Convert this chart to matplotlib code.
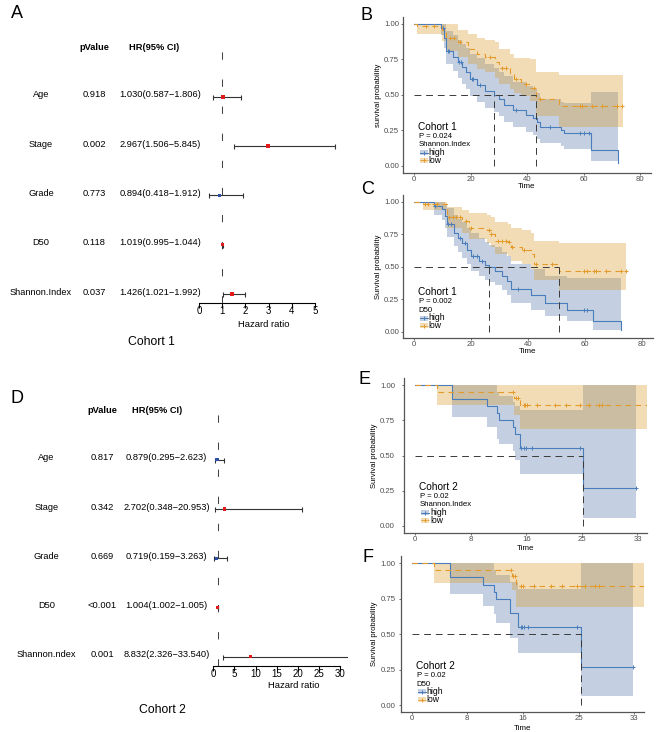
import numpy as np
import matplotlib
matplotlib.use('Agg')
import matplotlib.pyplot as plt
from matplotlib import transforms
from matplotlib.patches import Rectangle

plt.rcParams['font.family'] = ['Liberation Sans', 'DejaVu Sans']

W, H = 669, 732

# forest plot, cohort 1
vars_c1 = ['Age', 'Stage', 'Grade', 'D50', 'Shannon.Index']
pval_c1 = ['0.918', '0.002', '0.773', '0.118', '0.037']
hr_c1 = [1.030, 2.967, 0.894, 1.019, 1.426]
hr_lo_c1 = [0.587, 1.506, 0.418, 0.995, 1.021]
hr_hi_c1 = [1.806, 5.845, 1.912, 1.044, 1.992]

# forest plot, cohort 2
vars_c2 = ['Age', 'Stage', 'Grade', 'D50', 'Shannon.ndex']
pval_c2 = ['0.817', '0.342', '0.669', '<0.001', '0.001']
hr_c2 = [0.879, 2.702, 0.719, 1.004, 8.832]
hr_lo_c2 = [0.295, 0.348, 0.159, 1.002, 2.326]
hr_hi_c2 = [2.623, 20.953, 3.263, 1.005, 33.540]

# KM B: cohort 1, Shannon.Index
b_high_t = [0, 9.5, 10.5, 11.2, 13.8, 15.5, 17, 18.5, 19.8, 22.3, 25, 28.3, 30, 32, 35, 39.5, 42, 43.5, 44.7, 52, 53, 62.5, 72.2]
b_high_s = [1.00, 0.97, 0.90, 0.81, 0.77, 0.73, 0.70, 0.66, 0.61, 0.57, 0.53, 0.50, 0.47, 0.43, 0.39, 0.36, 0.34, 0.31, 0.27, 0.25, 0.23, 0.11, 0.02]
b_high_lo = [1.00, 0.92, 0.83, 0.72, 0.67, 0.62, 0.58, 0.54, 0.49, 0.45, 0.41, 0.38, 0.35, 0.31, 0.27, 0.24, 0.22, 0.19, 0.16, 0.14, 0.12, 0.03, 0.02]
b_high_hi = [1.00, 1.00, 1.00, 0.95, 0.92, 0.89, 0.86, 0.83, 0.79, 0.76, 0.72, 0.69, 0.66, 0.63, 0.59, 0.56, 0.54, 0.51, 0.47, 0.45, 0.44, 0.52, 0.52]
b_high_end = 72.2
b_high_cens = [10.2, 11.9, 12.5, 16, 16.6, 20.4, 21, 23.2, 36, 48, 58.8, 60, 62]
b_low_t = [0, 1, 10, 11.5, 15.5, 19, 22.4, 25, 28.6, 30, 34, 35.5, 38, 41, 43.3, 51.4]
b_low_s = [1.00, 0.985, 0.96, 0.90, 0.87, 0.82, 0.79, 0.77, 0.73, 0.69, 0.65, 0.61, 0.58, 0.55, 0.47, 0.42]
b_low_lo = [1.00, 0.93, 0.88, 0.81, 0.77, 0.72, 0.68, 0.66, 0.62, 0.58, 0.54, 0.51, 0.49, 0.46, 0.35, 0.27]
b_low_hi = [1.00, 1.00, 1.00, 1.00, 0.96, 0.93, 0.90, 0.89, 0.87, 0.82, 0.79, 0.76, 0.76, 0.75, 0.66, 0.64]
b_low_end = 74
b_low_cens = [4.3, 7.2, 12.9, 14, 16.3, 26.8, 31.1, 32.4, 36.1, 39.6, 42.6, 44.7, 58.7, 59.5, 63, 66.6, 71.7, 73.7]
b_medians = [28.3, 43.3]

# KM C: cohort 1, D50
c_high_t = [0, 6.9, 9.8, 11, 11.6, 14.2, 15.4, 17, 18.7, 20.2, 23, 25, 26.5, 28.5, 31, 32.5, 34, 41, 46, 53.6, 62.9, 72.8]
c_high_s = [1.00, 0.967, 0.94, 0.89, 0.83, 0.76, 0.72, 0.68, 0.63, 0.58, 0.545, 0.51, 0.50, 0.47, 0.43, 0.39, 0.33, 0.28, 0.22, 0.17, 0.08, 0.01]
c_high_lo = [1.00, 0.90, 0.86, 0.80, 0.73, 0.66, 0.61, 0.57, 0.52, 0.47, 0.43, 0.40, 0.38, 0.36, 0.32, 0.28, 0.22, 0.17, 0.12, 0.08, 0.01, 0.01]
c_high_hi = [1.00, 1.00, 1.00, 0.98, 0.95, 0.90, 0.87, 0.84, 0.80, 0.76, 0.72, 0.69, 0.67, 0.65, 0.61, 0.58, 0.52, 0.48, 0.43, 0.41, 0.41, 0.41]
c_high_end = 72.8
c_high_cens = [7.5, 12, 13, 16.3, 18, 20.7, 22, 23.8, 36.5, 59.7, 60.8]
c_low_t = [0, 3, 11.6, 17, 19.5, 25.5, 27, 28.5, 33, 34, 38, 41, 42, 50.8]
c_low_s = [1.00, 0.98, 0.88, 0.85, 0.80, 0.78, 0.75, 0.70, 0.69, 0.65, 0.63, 0.60, 0.52, 0.47]
c_low_lo = [1.00, 0.94, 0.80, 0.76, 0.71, 0.68, 0.65, 0.60, 0.58, 0.54, 0.52, 0.48, 0.40, 0.32]
c_low_hi = [1.00, 1.00, 0.96, 0.94, 0.91, 0.90, 0.88, 0.84, 0.83, 0.80, 0.78, 0.76, 0.70, 0.68]
c_low_end = 74.5
c_low_cens = [3.8, 5, 8, 12.4, 13.6, 14.6, 16, 18.2, 20.2, 26.5, 27.2, 29.6, 31, 32.2, 33.5, 34.6, 38.6, 42.8, 48.5, 59.7, 60.8, 63.2, 63.8, 67.3, 72.6, 74.5]
c_medians = [26.5, 50.8]

# KM E: cohort 2, Shannon.Index
e_high_t = [0, 5.6, 10.7, 12.2, 12.5, 14.6, 15.0, 15.7, 25.0]
e_high_s = [1.00, 0.90, 0.85, 0.80, 0.75, 0.70, 0.65, 0.55, 0.27]
e_high_lo = [1.00, 0.775, 0.70, 0.62, 0.58, 0.53, 0.47, 0.37, 0.06]
e_high_hi = [1.00, 1.00, 1.00, 0.95, 0.92, 0.88, 0.85, 0.82, 1.00]
e_high_end = 33
e_high_cens = [15.8, 16.2, 16.6, 17.5, 24.6, 33]
e_low_t = [0, 3.3, 14.8, 15.6]
e_low_s = [1.00, 0.95, 0.91, 0.86]
e_low_lo = [1.00, 0.86, 0.79, 0.69]
e_low_hi = [1.00, 1.00, 1.00, 1.00]
e_low_end = 34.6
e_low_cens = [14.7, 15.1, 15.4, 16.2, 16.4, 16.7, 18.2, 20.9, 22.6, 24.6, 25.9, 27.4, 27.9]
e_medians = [25.0]

# KM F: cohort 2, D50
f_high_t = [0, 5.7, 10.6, 12.3, 12.6, 14.7, 15.8, 25.2]
f_high_s = [1.00, 0.90, 0.85, 0.80, 0.75, 0.65, 0.55, 0.27]
f_high_lo = [1.00, 0.78, 0.70, 0.64, 0.58, 0.47, 0.37, 0.066]
f_high_hi = [1.00, 1.00, 1.00, 0.95, 0.92, 0.87, 0.82, 1.00]
f_high_end = 33
f_high_cens = [16.3, 16.5, 16.8, 17.3, 24.7, 33]
f_low_t = [0, 3.4, 14.9, 15.5]
f_low_s = [1.00, 0.95, 0.91, 0.84]
f_low_lo = [1.00, 0.86, 0.81, 0.69]
f_low_hi = [1.00, 1.00, 1.00, 1.00]
f_low_end = 34.6
f_low_cens = [14.8, 15.1, 15.4, 16.3, 16.6, 18.3, 20.8, 22.5, 24.7, 25.9, 27.3, 27.9]
f_medians = [25.2]

ticks_c1 = [0, 1, 2, 3, 4, 5]
ticks_c2 = [0, 5, 10, 15, 20, 25, 30]
km_ticks_1 = [0, 20, 40, 60, 80]
km_ticks_2 = [0, 8.3, 16.6, 24.9, 33.2]
km_labels_2 = ['0', '8', '16', '25', '33']

BLUE = '#4A7DBB'
BLUE_BAND = '#3E66A2'
ORANGE = '#E39A2A'
ORANGE_BAND = '#DA9B2C'
RED_PT = '#E31A1C'
BLUE_PT = '#2B50A5'
GRAY_TXT = '#4D4D4D'

fig = plt.figure(figsize=(W / 100, H / 100), dpi=100)


def px_axes(x0, y0, x1, y1):
    return fig.add_axes([x0 / W, 1 - y1 / H, (x1 - x0) / W, (y1 - y0) / H])


def ftext(x, y, s, **kw):
    fig.text(x / W, 1 - y / H, s, ha='center', va='center', **kw)


def forest(ax, names, pvals, hr, lo, hi, ticks, cols):
    hr, lo, hi = np.array(hr), np.array(lo), np.array(hi)
    rows = np.arange(len(names), 0, -1)
    ax.axvline(1, color='#444444', lw=0.75, ls=(0, (7, 19)))
    ax.errorbar(hr, rows, xerr=[hr - lo, hi - hr], fmt='none', ecolor='#333333',
                elinewidth=0.8, capsize=1.8, capthick=0.8)
    colors = [RED_PT if v > 1 else BLUE_PT for v in hr]
    ax.scatter(hr, rows, marker='s', s=6, c=colors, zorder=3, linewidths=0)
    tr = transforms.blended_transform_factory(fig.transFigure, ax.transData)
    name_x, p_x, hr_x, head_x = cols
    kw = dict(transform=tr, ha='center', va='center', fontsize=6.7)
    top = len(names) + 1
    ax.text(p_x / W, top, 'pValue', fontweight='bold', **kw)
    ax.text(head_x / W, top, 'HR(95% CI)', fontweight='bold', **kw)
    for r, n, p, h, l, u in zip(rows, names, pvals, hr, lo, hi):
        ax.text(name_x / W, r + 0.04, n, **kw)
        ax.text(p_x / W, r + 0.04, p, **kw)
        ax.text(hr_x / W, r + 0.04, f'{h:.3f}({l:.3f}\u2212{u:.3f})', **kw)
    for side in ['top', 'right', 'left']:
        ax.spines[side].set_visible(False)
    ax.spines['bottom'].set_bounds(ticks[0], ticks[-1])
    ax.spines['bottom'].set_linewidth(0.8)
    ax.set_xticks(ticks)
    ax.set_yticks([])
    ax.tick_params(axis='x', length=3.5, width=0.8, pad=-1.2, labelsize=7)
    ax.patch.set_alpha(0)


def step_xy(t, v, t_end):
    return np.append(t, t_end), np.append(v, v[-1])


def km(ax, high, low, medians, xticks, xlabels, xlim, ylabel, ypad,
       ylab_px, time_px, cohort, ptxt, title):
    for (t, s, lo, hi, t_end, cens), band, a in [(high, BLUE_BAND, 0.3), (low, ORANGE_BAND, 0.35)]:
        tt, lo_ = step_xy(t, lo, t_end)
        _, hi_ = step_xy(t, hi, t_end)
        ax.fill_between(tt, lo_, hi_, step='post', color=band, alpha=a, lw=0)
    for (t, s, lo, hi, t_end, cens), col, ls in [(high, BLUE, '-'), (low, ORANGE, (0, (5, 4)))]:
        tt, ss = step_xy(t, s, t_end)
        ax.step(tt, ss, where='post', color=col, lw=0.8, ls=ls)
        idx = np.searchsorted(t, cens, side='right') - 1
        ax.plot(cens, np.array(s)[idx], '+', color=col, ms=3.5, mew=0.7)
    dash = dict(color='#3A3A3A', lw=0.7, ls=(0, (7, 5)))
    ax.plot([0, max(medians)], [0.5, 0.5], **dash)
    for md in medians:
        ax.plot([md, md], [0, 0.5], **dash)

    ax.set_xlim(xlim)
    ax.set_ylim(-0.05, 1.05)
    ax.set_xticks(xticks)
    ax.set_xticklabels(xlabels)
    ax.set_yticks([0, 0.25, 0.5, 0.75, 1.0])
    ax.set_yticklabels(['0.00', '0.25', '0.50', '0.75', '1.00'])
    for side in ['top', 'right']:
        ax.spines[side].set_visible(False)
    for side in ['left', 'bottom']:
        ax.spines[side].set_color('#555555')
        ax.spines[side].set_linewidth(0.9)
    ax.tick_params(length=1.5, width=0.6, color='#555555', labelsize=5.6,
                   labelcolor=GRAY_TXT, pad=0.5)
    ax.tick_params(axis='y', pad=ypad)
    ax.patch.set_alpha(0)

    bb = ax.get_position()
    x0, y1 = bb.x0 * W, (1 - bb.y0) * H
    wpx, hpx = bb.width * W, bb.height * H
    ax.set_xlabel('Time', fontsize=5.8)
    ax.xaxis.label.set_va('center')
    ax.xaxis.set_label_coords(0.5, -(time_px - y1) / hpx)
    ax.set_ylabel(ylabel, fontsize=5.5)
    ax.yaxis.label.set_va('center')
    ax.yaxis.set_label_coords((ylab_px - x0) / wpx, 0.5)

    # legend block, offsets in pixels from the lower-left corner
    def xy(dx, up):
        return dx / wpx, up / hpx
    tk = dict(transform=ax.transAxes, ha='left', va='center')
    ax.text(*xy(15.5, 46), cohort, fontsize=7.3, **tk)
    ax.text(*xy(16, 36.5), ptxt, fontsize=5.6, **tk)
    ax.text(*xy(16, 28), title, fontsize=5.6, **tk)
    for up, col, band, a, ls, lab in [(20.2, BLUE, BLUE_BAND, 0.3, '-', 'high'),
                                      (12.6, ORANGE, ORANGE_BAND, 0.35, (0, (2, 1.5)), 'low')]:
        kx, ky = xy(17, up - 2.5)
        kw_, kh = xy(8, 5)
        ax.add_patch(Rectangle((kx, ky), kw_, kh, transform=ax.transAxes,
                               color=band, alpha=a, lw=0))
        ax.plot([kx, kx + kw_], [ky + kh / 2] * 2, transform=ax.transAxes,
                color=col, lw=0.7, ls=ls)
        ax.plot([kx + kw_ / 2], [ky + kh / 2], '+', transform=ax.transAxes,
                color=col, ms=3.5, mew=0.7)
        ax.text(*xy(26, up), lab, fontsize=6.2, **tk)


# A
ax_a = px_axes(190, 36.7, 345, 303)
ax_a.set_xlim(-0.39, 6.29)
ax_a.set_ylim(0.817, 6.22)
forest(ax_a, vars_c1, pval_c1, hr_c1, hr_lo_c1, hr_hi_c1, ticks_c1, (41, 94, 160, 154))
ftext(263.3, 324, 'Hazard ratio', fontsize=6.8)
ftext(151.7, 342, 'Cohort 1', fontsize=8.8)

# D
ax_d = px_axes(205, 401.7, 348, 666)
ax_d.set_xlim(-1.97, 31.92)
ax_d.set_ylim(0.811, 6.18)
forest(ax_d, vars_c2, pval_c2, hr_c2, hr_lo_c2, hr_hi_c2, ticks_c2, (46.5, 102, 166.5, 157.5))
ftext(293.3, 685, 'Hazard ratio', fontsize=6.8)
ftext(162, 710, 'Cohort 2', fontsize=8.8)

# B
ax_b = px_axes(402.7, 16.9, 651.3, 172.8)
km(ax_b,
   (b_high_t, b_high_s, b_high_lo, b_high_hi, b_high_end, b_high_cens),
   (b_low_t, b_low_s, b_low_lo, b_low_hi, b_low_end, b_low_cens),
   b_medians, km_ticks_1, [str(v) for v in km_ticks_1], (-4, 84),
   'survival probability', 1.0, 378, 186, 'Cohort 1', 'P = 0.024', 'Shannon.Index')

# C
ax_c = px_axes(402.6, 195.2, 653.1, 338.2)
km(ax_c,
   (c_high_t, c_high_s, c_high_lo, c_high_hi, c_high_end, c_high_cens),
   (c_low_t, c_low_s, c_low_lo, c_low_hi, c_low_end, c_low_cens),
   c_medians, km_ticks_1, [str(v) for v in km_ticks_1], (-4, 84),
   'Survival probability', 1.0, 378.3, 351.5, 'Cohort 1', 'P = 0.002', 'D50')

# E
ax_e = px_axes(403.9, 378, 647.2, 533)
km(ax_e,
   (e_high_t, e_high_s, e_high_lo, e_high_hi, e_high_end, e_high_cens),
   (e_low_t, e_low_s, e_low_lo, e_low_hi, e_low_end, e_low_cens),
   e_medians, km_ticks_2, km_labels_2, (-1.65, 34.65),
   'Survival probability', 5.0, 374.5, 549, 'Cohort 2', 'P = 0.02', 'Shannon.Index')

# F
ax_f = px_axes(400.6, 556.2, 643.9, 712.1)
km(ax_f,
   (f_high_t, f_high_s, f_high_lo, f_high_hi, f_high_end, f_high_cens),
   (f_low_t, f_low_s, f_low_lo, f_low_hi, f_low_end, f_low_cens),
   f_medians, km_ticks_2, km_labels_2, (-1.65, 34.65),
   'Survival probability', 2.0, 374, 728, 'Cohort 2', 'P = 0.02', 'D50')

# panel letters
for lab, x, y in [('A', 16.5, 14), ('B', 367, 15), ('C', 367.5, 189),
                  ('D', 17.5, 398), ('E', 364, 379), ('F', 368, 557.5)]:
    ftext(x, y, lab, fontsize=13)

fig.savefig('out.png', dpi=100)
